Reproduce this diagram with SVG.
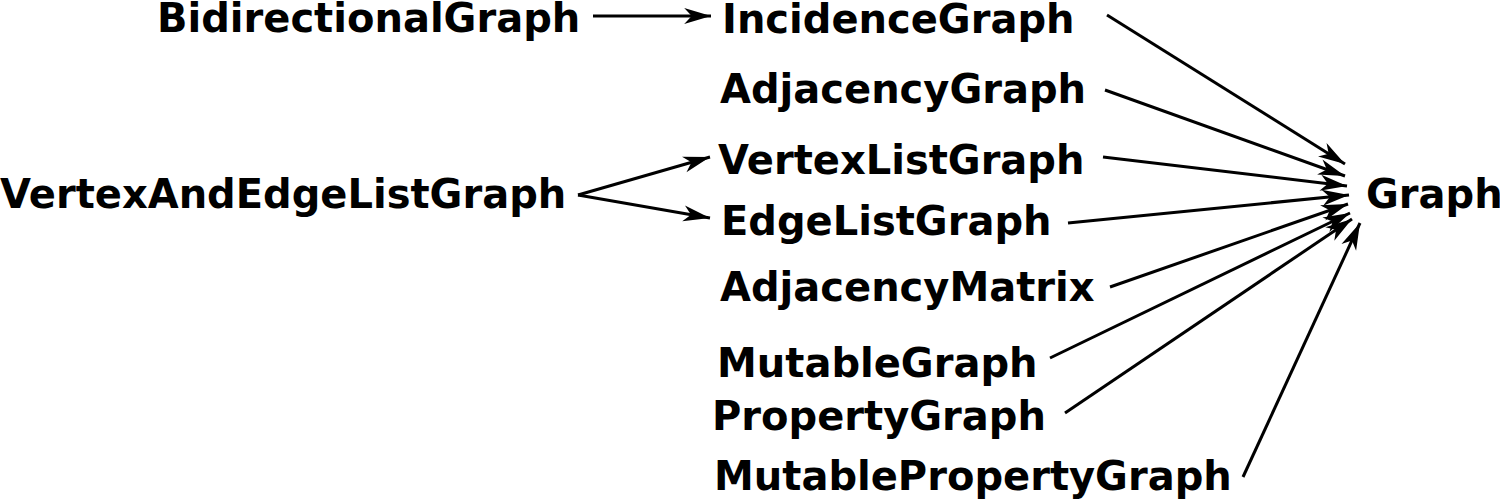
<svg xmlns="http://www.w3.org/2000/svg" width="1500" height="499" viewBox="0 0 1500 499">
<style>
text{font-family:"DejaVu Sans",sans-serif;font-weight:bold;font-size:40px;fill:#000}
.c line{stroke:#000;stroke-width:3;marker-end:url(#a)}
</style>
<defs>
<marker id="a" markerUnits="userSpaceOnUse" markerWidth="30" markerHeight="20" viewBox="-26 -8 28 16" refX="0" refY="0" orient="auto">
<path d="M0,0 L-25,-7.5 L-18,0 L-25,7.5 Z" fill="#000"/>
</marker>
</defs>
<rect width="1500" height="499" fill="#fff"/>
<g class="c">
<line x1="593" y1="16" x2="711" y2="16"/>
<line x1="578" y1="195" x2="710" y2="157"/>
<line x1="578" y1="195" x2="710" y2="218"/>
<line x1="1107" y1="15" x2="1345" y2="164"/>
<line x1="1105" y1="90" x2="1345" y2="176"/>
<line x1="1103" y1="157" x2="1347" y2="186"/>
<line x1="1068" y1="223" x2="1349" y2="195"/>
<line x1="1110" y1="287" x2="1348" y2="204"/>
<line x1="1050" y1="358" x2="1350" y2="213"/>
<line x1="1065" y1="413" x2="1352" y2="219"/>
<line x1="1243" y1="477" x2="1360" y2="223"/>
</g>
<g id="n1"><text x="157" y="32">BidirectionalGraph</text></g>
<g id="n2"><text x="722" y="33">IncidenceGraph</text></g>
<g id="n3"><text x="720" y="103">AdjacencyGraph</text></g>
<g id="n4"><text x="718" y="174">VertexListGraph</text></g>
<g id="n5"><text x="0" y="208">VertexAndEdgeListGraph</text></g>
<g id="n6"><text x="721" y="235">EdgeListGraph</text></g>
<g id="n7"><text x="720" y="301">AdjacencyMatrix</text></g>
<g id="n8"><text x="717" y="377">MutableGraph</text></g>
<g id="n9"><text x="712" y="430">PropertyGraph</text></g>
<g id="n10"><text x="714" y="490">MutablePropertyGraph</text></g>
<g id="n11"><text x="1366" y="208">Graph</text></g>
</svg>
